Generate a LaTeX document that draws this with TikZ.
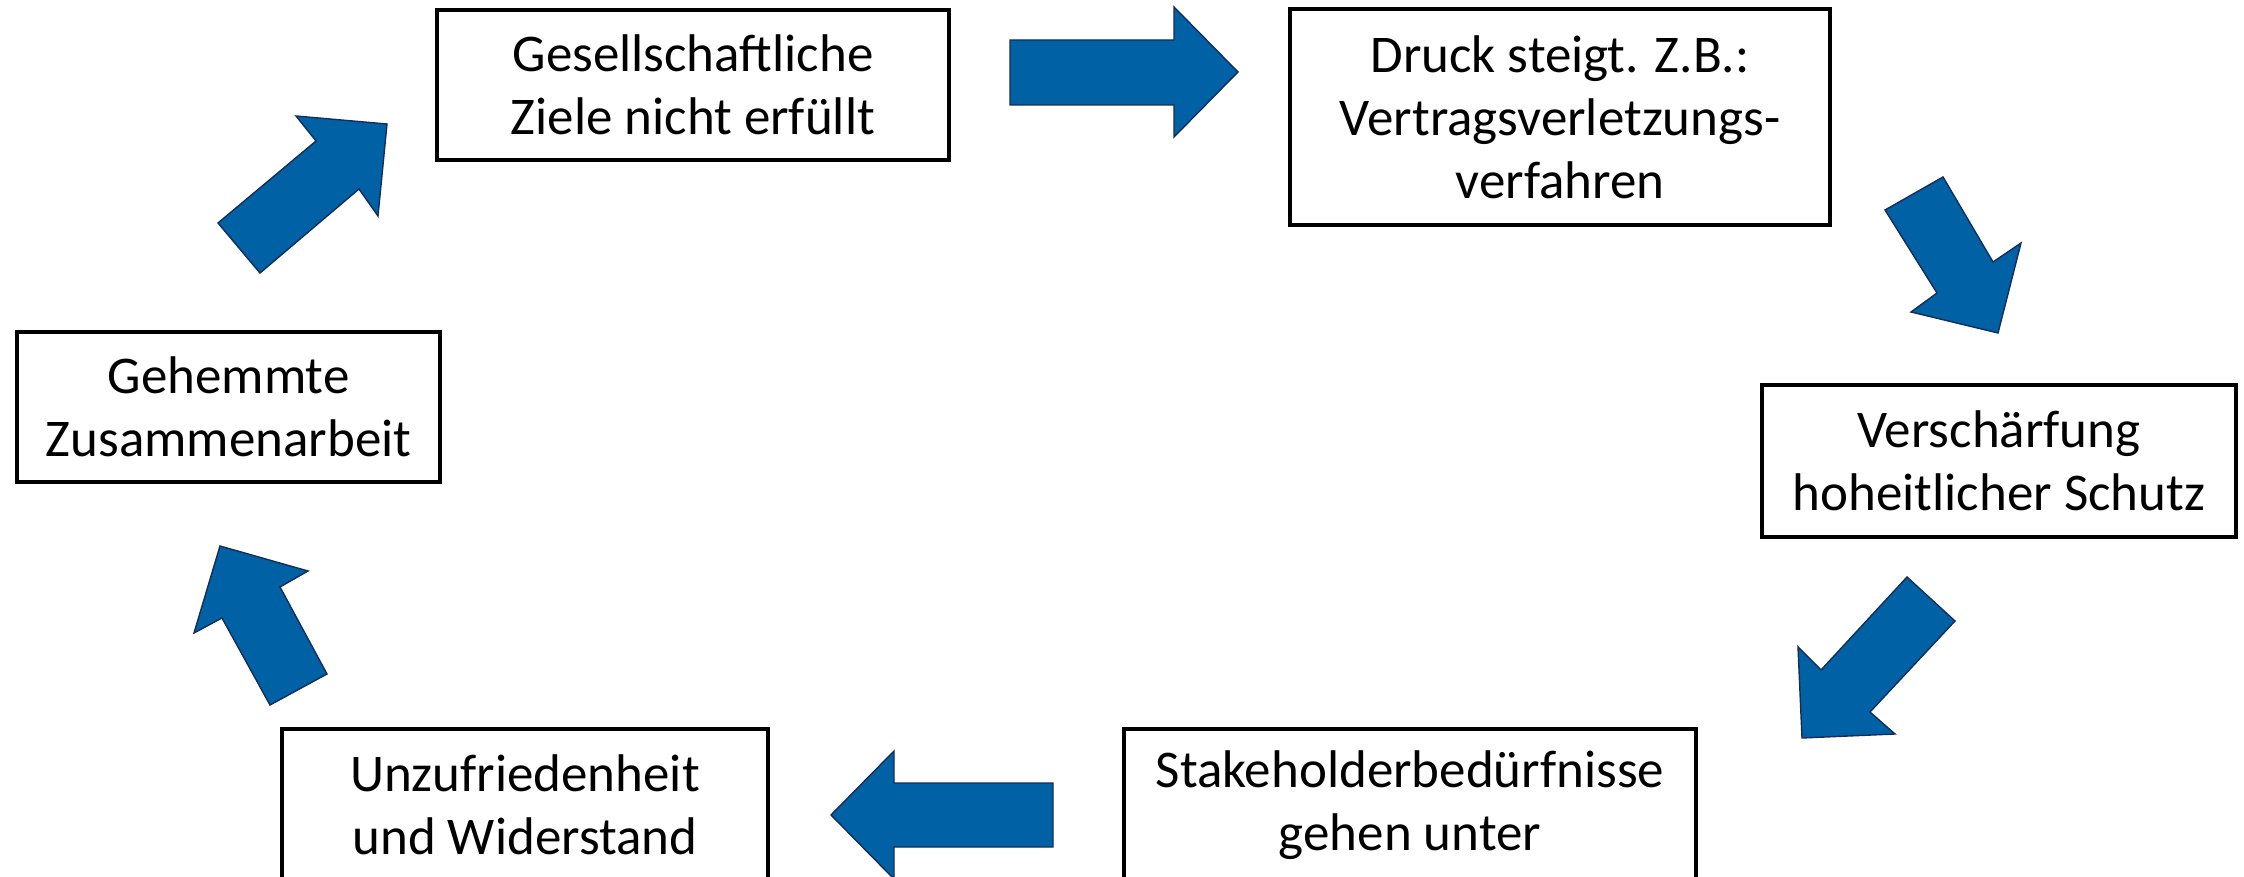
\documentclass[tikz,border=0pt]{standalone}
\usepackage{fontspec}
\setmainfont{Carlito}
\definecolor{arrowblue}{RGB}{0,98,165}
\definecolor{arrowedge}{RGB}{20,45,90}
\begin{document}
\begin{tikzpicture}[x=0.5pt,y=-0.5pt,
  box/.style={draw=black,line width=2.2pt,fill=white,align=center,inner sep=0pt,
    font=\fontsize{26.5}{31.5}\selectfont},
  blockarrow/.style={fill=arrowblue,draw=arrowedge,line width=0.7pt,line join=miter}]
\useasboundingbox (0,0) rectangle (2244,877);
% boxes
\node[box,minimum width=256pt,minimum height=75pt] (g) at (693,85) {Gesellschaftliche\\Ziele nicht erfüllt};
\node[box,minimum width=270pt,minimum height=108pt] (d) at (1560,117) {Druck steigt. Z.B.:\\Vertragsverletzungs-\\verfahren};
\node[box,minimum width=237pt,minimum height=76pt] (v) at (1999,461) {Verschärfung\\hoheitlicher Schutz};
\node[box,minimum width=286pt,minimum height=76pt] (s) at (1410,805) {Stakeholderbedürfnisse\\gehen unter};
\node[box,minimum width=243pt,minimum height=76pt] (u) at (525,805) {Unzufriedenheit\\und Widerstand};
\node[box,minimum width=211.5pt,minimum height=75pt] (h) at (228.5,407) {Gehemmte\\Zusammenarbeit};
% block arrows
\draw[blockarrow] (218,223)--(316,141)--(296,116)--(387,124)--(378,216)--(359,189)--(260,273)--cycle;
\draw[blockarrow] (1010,40)--(1174,40)--(1174,7)--(1238,72)--(1174,137)--(1174,105)--(1010,105)--cycle;
\draw[blockarrow] (1885,210)--(1943,177)--(1993,262)--(2021,243)--(1998,333)--(1911,312)--(1937,293)--cycle;
\draw[blockarrow] (1907,577)--(1955,621)--(1870,712)--(1895,734)--(1802,738)--(1798,647)--(1821,670)--cycle;
\draw[blockarrow] (1053,783)--(894,783)--(894,751)--(831,815)--(894,879)--(894,847)--(1053,847)--cycle;
\draw[blockarrow] (270,705)--(222,618)--(194,633)--(220,546)--(308,571)--(280,587)--(327,674)--cycle;
\end{tikzpicture}
\end{document}
